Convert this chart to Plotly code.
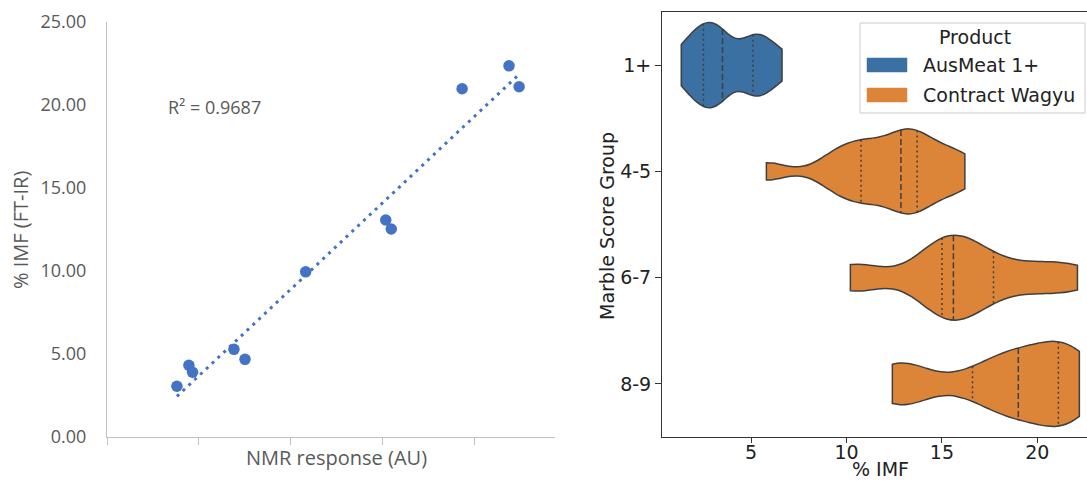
import numpy as np
import plotly.graph_objects as go

# ---------------- data ----------------
# Left panel: NMR response vs %IMF (FT-IR)
nmr_response = [0.76, 0.89, 0.93, 1.38, 1.50, 2.16, 3.03, 3.09, 3.86, 4.37, 4.48]
imf_ftir = [3.06, 4.32, 3.90, 5.28, 4.68, 9.95, 13.07, 12.53, 20.98, 22.36, 21.10]
r2_label = "R² = 0.9687"

# Right panel: %IMF by marble score group
groups = ["1+", "4-5", "6-7", "8-9"]
products = ["AusMeat 1+", "Contract Wagyu"]
imf_ausmeat_1 = [1.34, 1.9, 2.3, 2.5, 2.9, 3.1, 3.5, 3.7, 4.9, 5.1, 5.4, 5.9, 6.62]
imf_wagyu_45 = [5.8, 9.2, 9.9, 10.76, 11.1, 11.9, 12.85, 13.1, 13.4, 13.7, 14.5, 15.4, 16.2]
imf_wagyu_67 = [10.2, 10.7, 14.2, 15.0, 15.2, 15.4, 15.6, 16.3, 16.8, 17.7, 19.4, 20.9, 22.1]
imf_wagyu_89 = [12.4, 12.6, 13.8, 16.6, 17.9, 18.5, 19.0, 19.9, 20.5, 21.1, 21.5, 21.9, 22.2]
group_values = [imf_ausmeat_1, imf_wagyu_45, imf_wagyu_67, imf_wagyu_89]
group_product = [0, 1, 1, 1]
kde_bandwidth = [0.7, 1.0, 1.4, 1.3]

# ---------------- styles ----------------
W, H = 1087, 482
product_colors = ["#3a70a2", "#dc8538"]
edge = "#3f3f3f"
excel_blue = "#4472c4"
excel_gray = "#595959"
VW = 0.8  # violin width in category units


def px_x(p):
    return p / W


def px_y(p):
    return 1 - p / H


def kde(vals, bw, t):
    v = np.asarray(vals, float)
    t = np.atleast_1d(np.asarray(t, float))
    z = (t[:, None] - v[None, :]) / bw
    return np.exp(-0.5 * z * z).sum(1) / (len(v) * bw * np.sqrt(2 * np.pi))


def kde_max(vals, bw):
    lo, hi = min(vals), max(vals)
    n = int(np.ceil((hi - lo) / (bw / 3)))
    t = lo + (hi - lo) / n * np.arange(n + 1)
    return kde(vals, bw, t).max()


fig = go.Figure()

# ----- left scatter + trendline -----
fig.add_trace(go.Scatter(
    x=nmr_response, y=imf_ftir, mode="markers",
    marker=dict(size=11.5, color=excel_blue),
    xaxis="x", yaxis="y", showlegend=False, hoverinfo="skip"))

slope, intercept = np.polyfit(nmr_response, imf_ftir, 1)
tx = [min(nmr_response), max(nmr_response)]
fig.add_trace(go.Scatter(
    x=tx, y=[slope * v + intercept for v in tx], mode="lines",
    line=dict(color=excel_blue, width=3, dash="3px,5px"),
    xaxis="x", yaxis="y", showlegend=False, hoverinfo="skip"))

# ----- right violins -----
shapes = []
for i, (g, vals) in enumerate(zip(groups, group_values)):
    p = group_product[i]
    bw = kde_bandwidth[i]
    fig.add_trace(go.Violin(
        x=vals, y=[g] * len(vals), orientation="h",
        bandwidth=bw, spanmode="hard", width=VW, scalemode="width",
        points=False, box_visible=False, meanline_visible=False,
        fillcolor=product_colors[p], line=dict(color=edge, width=1.5),
        opacity=1, name=products[p], showlegend=False,
        xaxis="x2", yaxis="y2", hoverinfo="skip"))
    mx = kde_max(vals, bw)
    qs = np.percentile(vals, [25, 50, 75])
    for k, q in enumerate(qs):
        hw = VW / 2 * kde(vals, bw, q)[0] / mx
        shapes.append(dict(
            type="line", xref="x2", yref="y2", x0=q, x1=q, y0=i - hw, y1=i + hw,
            line=dict(color=edge, width=1.5, dash="6px,3px" if k == 1 else "2px,3px")))

# ----- manual legend -----
shapes.append(dict(type="rect", xref="paper", yref="paper",
                   x0=px_x(860), x1=px_x(1085), y0=px_y(113), y1=px_y(23),
                   line=dict(color="#cccccc", width=1), fillcolor="rgba(255,255,255,0.8)"))
for j, c in enumerate(product_colors):
    yc = 65 + 30 * j
    shapes.append(dict(type="rect", xref="paper", yref="paper",
                       x0=px_x(867), x1=px_x(907), y0=px_y(yc + 7), y1=px_y(yc - 7),
                       line=dict(color=c, width=0.5), fillcolor=c))

dv = dict(family="DejaVu Sans", size=19, color="#222222")
op = dict(family="Open Sans", color=excel_gray)
annotations = [
    dict(text=r2_label, xref="paper", yref="paper", x=px_x(166), y=px_y(107),
         xanchor="left", yanchor="middle", showarrow=False, font=dict(op, size=18)),
    dict(text="% IMF (FT-IR)", xref="paper", yref="paper", x=px_x(20), y=px_y(230),
         textangle=-90, xanchor="center", yanchor="middle", showarrow=False,
         font=dict(op, size=20)),
    dict(text="NMR response (AU)", xref="paper", yref="paper", x=px_x(336), y=px_y(457),
         xanchor="center", yanchor="middle", showarrow=False, font=dict(op, size=20)),
    dict(text="Marble Score Group", xref="paper", yref="paper", x=px_x(607), y=px_y(226),
         textangle=-90, xanchor="center", yanchor="middle", showarrow=False, font=dv),
    dict(text="% IMF", xref="paper", yref="paper", x=px_x(880), y=0,
         xanchor="center", yanchor="bottom", showarrow=False, font=dv),
    dict(text="Product", xref="paper", yref="paper", x=px_x(975), y=px_y(37),
         xanchor="center", yanchor="middle", showarrow=False, font=dv),
]
for j, name in enumerate(products):
    annotations.append(dict(text=name, xref="paper", yref="paper", x=px_x(921),
                            y=px_y(65 + 30 * j), xanchor="left", yanchor="middle",
                            showarrow=False, font=dv))

fig.update_layout(
    width=W, height=H, margin=dict(l=0, r=0, t=0, b=0, pad=0, autoexpand=False),
    paper_bgcolor="white", plot_bgcolor="white",
    violinmode="overlay",
    xaxis=dict(domain=[px_x(107), px_x(555)], range=[0, 4.87], tick0=0, dtick=1,
               showticklabels=False, ticks="outside", ticklen=7, tickcolor="#bfbfbf",
               showline=True, linecolor="#bfbfbf", linewidth=1, automargin=False,
               showgrid=False, zeroline=False, anchor="y"),
    yaxis=dict(domain=[px_y(437), px_y(22)], range=[0, 25], tick0=0, dtick=5,
               tickformat=".2f", ticks="", showline=True, linecolor="#bfbfbf",
               linewidth=1, showgrid=False, zeroline=False, anchor="x", automargin=False,
               tickfont=dict(op, size=18), ticklabelstandoff=16),
    xaxis2=dict(domain=[px_x(662), 1.0], range=[0.33, 22.6], tickvals=[5, 10, 15, 20],
                ticks="outside", ticklen=5, tickcolor="#333333", tickfont=dv,
                ticklabelstandoff=-7,
                showline=True, mirror=True, linecolor="#333333", linewidth=1,
                showgrid=False, zeroline=False, anchor="y2", automargin=False),
    yaxis2=dict(domain=[px_y(437), px_y(12)], type="category", categoryorder="array",
                categoryarray=groups, range=[3.5, -0.5], ticks="outside", ticklen=6,
                tickcolor="#333333", tickfont=dv, showline=True, mirror=False,
                linecolor="#333333", linewidth=1, showgrid=False, zeroline=False,
                anchor="x2", automargin=False),
    shapes=shapes, annotations=annotations, showlegend=False,
)

fig.write_html(
    "out.html",
    config={"displayModeBar": False},
    post_script="document.body.style.margin='0px';document.body.style.overflow='hidden';",
)
